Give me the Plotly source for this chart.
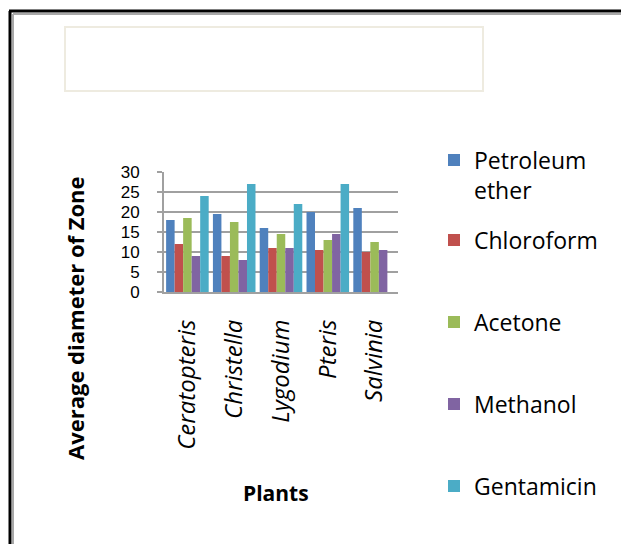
import plotly.graph_objects as go

# Average zone diameter per plant extract
plants = ["Ceratopteris", "Christella", "Lygodium", "Pteris", "Salvinia"]
petroleum_ether = [18, 19.5, 16, 20, 21]
chloroform = [12, 9, 11, 10.5, 10]
acetone = [18.5, 17.5, 14.5, 13, 12.5]
methanol = [9, 8, 11, 14.5, 10.5]
gentamicin = [24, 27, 22, 27, 0]

series = [
    ("Petroleum<br>ether", petroleum_ether, "#4F81BD"),
    ("Chloroform", chloroform, "#C0504D"),
    ("Acetone", acetone, "#9BBB59"),
    ("Methanol", methanol, "#8064A2"),
    ("Gentamicin", gentamicin, "#4BACC6"),
]
# vertical centre (px from top) of each legend entry
legend_centres = [175, 240, 322, 404, 486]

W, H = 621, 544
L, R, T, B = 164, 223, 172, 252
PW, PH = W - L - R, H - T - B


def px_x(px):
    return (px - L) / PW


def px_y(py):
    return (H - B - py) / PH


FONT = "Open Sans"

fig = go.Figure()
legends = {}
for i, (name, vals, color) in enumerate(series):
    key = "legend" if i == 0 else f"legend{i + 1}"
    fig.add_trace(go.Bar(
        x=plants, y=vals, name=name, legend=key, showlegend=True,
        marker=dict(color=color, line=dict(width=0)),
    ))
    legends[key] = dict(
        x=px_x(434), y=1 - legend_centres[i] / H,
        xanchor="left", yanchor="middle", yref="container", maxheight=1,
        valign="top",
        font=dict(family=FONT, size=23, color="#000000"),
        itemwidth=30, bgcolor="rgba(0,0,0,0)", visible=True,
    )

shapes = [
    # empty title box
    dict(type="rect", xref="paper", yref="paper",
         x0=px_x(65), x1=px_x(483), y0=px_y(91), y1=px_y(27),
         line=dict(color="#EEEBE0", width=2), fillcolor="rgba(0,0,0,0)"),
    # outer frame (left and top edges)
    dict(type="line", xref="paper", yref="paper",
         x0=px_x(10), x1=px_x(10), y0=px_y(11), y1=px_y(H + 5),
         line=dict(color="#000000", width=3)),
    dict(type="line", xref="paper", yref="paper",
         x0=px_x(9), x1=px_x(W + 5), y0=px_y(11), y1=px_y(11),
         line=dict(color="#000000", width=3)),
    dict(type="line", xref="paper", yref="paper",
         x0=px_x(13), x1=px_x(13), y0=px_y(14), y1=px_y(H + 5),
         line=dict(color="#A8A8A8", width=2)),
    dict(type="line", xref="paper", yref="paper",
         x0=px_x(13), x1=px_x(W + 5), y0=px_y(14), y1=px_y(14),
         line=dict(color="#A8A8A8", width=2)),
]

annotations = [
    dict(text="<b>Average diameter of Zone</b>", xref="paper", yref="paper",
         x=px_x(75), y=px_y(318), xanchor="center", yanchor="middle",
         textangle=-90, showarrow=False,
         font=dict(family=FONT, size=22, color="#000000")),
    dict(text="<b>Plants</b>", xref="paper", yref="paper",
         x=px_x(276), y=px_y(493), xanchor="center", yanchor="middle",
         showarrow=False,
         font=dict(family=FONT, size=21, color="#000000")),
]

fig.update_layout(
    width=W, height=H,
    margin=dict(l=L, r=R, t=T, b=B, autoexpand=False),
    paper_bgcolor="#FFFFFF", plot_bgcolor="#FFFFFF",
    showlegend=True,
    barmode="group", bargap=0.09, bargroupgap=0,
    shapes=shapes, annotations=annotations,
    xaxis=dict(
        range=[-0.5, 4.5], tickangle=-90, showgrid=False,
        showline=True, linecolor="#A0A0A0", linewidth=2,
        ticks="", ticklabelstandoff=16,
        tickfont=dict(family=FONT, size=24, color="#000000", style="italic"),
    ),
    yaxis=dict(
        range=[0, 30], tickvals=[0, 5, 10, 15, 20, 25, 30],
        showgrid=True, gridcolor="#A0A0A0", gridwidth=1.5,
        showline=True, linecolor="#A0A0A0", linewidth=2,
        ticks="outside", ticklen=5, tickcolor="#A0A0A0", tickwidth=1.5,
        ticklabelstandoff=14, zeroline=False,
        tickfont=dict(family="Liberation Sans", size=17, color="#000000"),
    ),
    **legends,
)

fig.write_html("out.html")
